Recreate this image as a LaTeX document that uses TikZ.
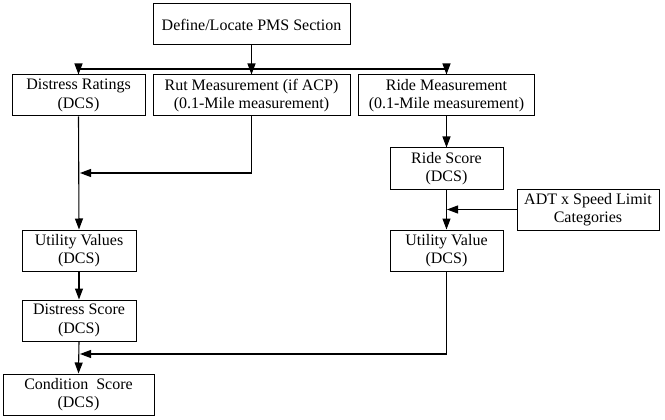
\documentclass[tikz,border=0pt]{standalone}
\usepackage{fontspec}
\setmainfont{Liberation Serif}
\usetikzlibrary{arrows.meta}
\begin{document}
\begin{tikzpicture}[x=1pt,y=-1pt,
  box/.style={draw,line width=1pt,align=center,inner sep=0pt,minimum height=41pt,
    font=\fontsize{16}{18.5}\selectfont},
  conn/.style={line width=1.1pt},
  arr/.style={conn,-{Triangle[length=11pt,width=8pt]}}]
\useasboundingbox (0,0) rectangle (665,420);
\node[box,minimum width=197pt] (top) at (251.5,24.5) {Define/Locate PMS Section};
\node[box,minimum width=133pt] (dr) at (78.5,95.5) {Distress Ratings\\(DCS)};
\node[box,minimum width=197pt] (rut) at (251.5,95.5) {Rut Measurement (if ACP)\\(0.1-Mile measurement)};
\node[box,minimum width=176pt] (ride) at (446.5,95.5) {Ride Measurement\\(0.1-Mile measurement)};
\node[box,minimum width=113pt] (rs) at (446.5,168.5) {Ride Score\\(DCS)};
\node[box,minimum width=142pt] (adt) at (588,209.5) {ADT x Speed Limit\\Categories};
\node[box,minimum width=113pt] (uv) at (446.5,250.5) {Utility Value\\(DCS)};
\node[box,minimum width=114pt] (uvs) at (79,250.5) {Utility Values\\(DCS)};
\node[box,minimum width=114pt] (ds) at (79,320.5) {Distress Score\\(DCS)};
\node[box,minimum width=151pt] (cs) at (78.5,394.5) {Condition~ Score\\(DCS)};
\coordinate (split) at (251.5,69);
\coordinate (rutj) at (80,173);
\coordinate (adtj) at (447,209.5);
\coordinate (uvj) at (80,354);
\draw[arr] (top.south) -- (rut.north);
\draw[arr] (split) -| (dr.north);
\draw[arr] (split) -| (ride.north);
\draw[arr] (dr.south) -- (uvs.north);
\draw[arr] (rut.south) |- (rutj);
\draw[arr] (ride.south) -- (rs.north);
\draw[arr] (rs.south) -- (uv.north);
\draw[arr] (adt.west) -- (adtj);
\draw[arr] (uvs.south) -- (ds.north);
\draw[arr] (ds.south) -- (cs.north);
\draw[arr] (uv.south) |- (uvj);
\end{tikzpicture}
\end{document}
